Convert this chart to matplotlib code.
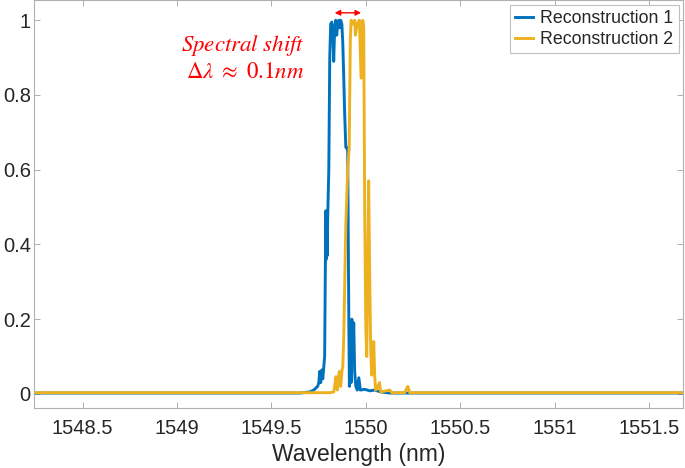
import matplotlib
matplotlib.use("Agg")
import matplotlib.pyplot as plt
from matplotlib.ticker import FuncFormatter

plt.rcParams["font.family"] = ["Liberation Sans", "DejaVu Sans"]
plt.rcParams["mathtext.fontset"] = "stix"

# ---- data ----
wl_rec1 = [1548.20, 1549.650, 1549.703, 1549.724, 1549.745, 1549.751, 1549.756,
           1549.761, 1549.767, 1549.772, 1549.777, 1549.782, 1549.788, 1549.790,
           1549.793, 1549.796, 1549.798, 1549.804, 1549.809, 1549.814, 1549.820,
           1549.825, 1549.830, 1549.835, 1549.841, 1549.846, 1549.851, 1549.857,
           1549.862, 1549.867, 1549.873, 1549.878, 1549.883, 1549.888, 1549.894,
           1549.899, 1549.904, 1549.910, 1549.913, 1549.918, 1549.922, 1549.926,
           1549.931, 1549.936, 1549.941, 1549.947, 1549.955, 1549.963, 1549.971,
           1549.994, 1550.021, 1550.047, 1550.079, 1550.127, 1551.80]
int_rec1 = [0.002, 0.002, 0.005, 0.01, 0.02, 0.03, 0.06,
            0.03, 0.064, 0.04, 0.07, 0.10, 0.49, 0.36,
            0.48, 0.37, 0.47, 0.60, 0.90, 0.99, 0.995,
            0.97, 0.89, 0.98, 1.0, 0.96, 0.99, 1.0,
            0.98, 1.0, 0.99, 0.94, 0.85, 0.75, 0.66,
            0.66, 0.65, 0.20, 0.02, 0.19, 0.03, 0.20,
            0.09, 0.19, 0.06, 0.02, 0.01, 0.043, 0.01,
            0.012, 0.008, 0.01, 0.005, 0.002, 0.002]

wl_rec2 = [1548.20, 1549.809, 1549.830, 1549.838, 1549.842, 1549.849, 1549.854,
           1549.860, 1549.867, 1549.873, 1549.878, 1549.883, 1549.894, 1549.904,
           1549.912, 1549.918, 1549.922, 1549.931, 1549.941, 1549.945, 1549.954,
           1549.966, 1549.975, 1549.984, 1549.989, 1549.994, 1550.000, 1550.005,
           1550.010, 1550.015, 1550.021, 1550.026, 1550.031, 1550.037, 1550.042,
           1550.047, 1550.052, 1550.061, 1550.072, 1550.079, 1550.127, 1550.138,
           1550.206, 1550.222, 1550.233, 1551.80]
int_rec2 = [0.003, 0.003, 0.005, 0.03, 0.046, 0.01, 0.04,
            0.06, 0.02, 0.06, 0.073, 0.15, 0.45, 0.60,
            0.66, 0.95, 1.0, 0.99, 1.0, 0.96, 0.99,
            1.0, 0.845, 1.0, 0.98, 0.50, 0.18, 0.10,
            0.30, 0.57, 0.30, 0.12, 0.05, 0.08, 0.14,
            0.05, 0.01, 0.015, 0.03, 0.005, 0.01, 0.003,
            0.003, 0.02, 0.003, 0.003]

x_ticks = [1548.5, 1549, 1549.5, 1550, 1550.5, 1551, 1551.5]
y_ticks = [0, 0.2, 0.4, 0.6, 0.8, 1]
shift_from, shift_to = 1549.835, 1549.975

fig = plt.figure(figsize=(6.85, 4.68), dpi=100)
ax = fig.add_axes([0.049, 0.129, 0.948, 0.870])

ax.plot(wl_rec1, int_rec1, color="#0072BD", lw=2.1, label="Reconstruction 1")
ax.plot(wl_rec2, int_rec2, color="#EDB120", lw=2.1, label="Reconstruction 2")

ax.set_xlim(1548.24, 1551.68)
ax.set_ylim(-0.037, 1.053)
ax.set_xticks(x_ticks)
ax.set_yticks(y_ticks)
fmt = FuncFormatter(lambda v, p: f"{v:g}")
ax.xaxis.set_major_formatter(fmt)
ax.yaxis.set_major_formatter(fmt)
ax.tick_params(direction="in", length=4.3, width=0.6, color="#a0a0a0",
               labelcolor="#262626", labelsize=14.5, top=True, right=True)
ax.tick_params(axis="x", pad=8)
ax.tick_params(axis="y", pad=2)
for sp in ax.spines.values():
    sp.set_color("#b0b0b0")
    sp.set_linewidth(0.8)

ax.set_xlabel("Wavelength (nm)", fontsize=16.5, color="#262626", labelpad=4)

# annotation: spectral shift
ax.annotate("", xy=(shift_from, 1.02), xytext=(shift_to, 1.02),
            arrowprops=dict(arrowstyle="<|-|>", color="red", lw=1.0,
                            mutation_scale=8, shrinkA=0, shrinkB=0))
ax.text(1549.676, 0.932, r"$Spectral\ shift$", color="red", fontsize=16.5,
        ha="right", va="center")
ax.text(1549.676, 0.862, r"$\Delta\lambda\ \approx\ 0.1nm$", color="red",
        fontsize=16.5, ha="right", va="center")

leg = ax.legend(loc="upper right", fontsize=12.8, handlelength=1.0,
                handletextpad=0.4, borderaxespad=0.25, borderpad=0.3,
                labelspacing=0.2, fancybox=False, framealpha=1)
leg.get_frame().set_edgecolor("#c0c0c0")
leg.get_frame().set_linewidth(0.8)
for t in leg.get_texts():
    t.set_color("#262626")

fig.savefig("out.png", dpi=100)
